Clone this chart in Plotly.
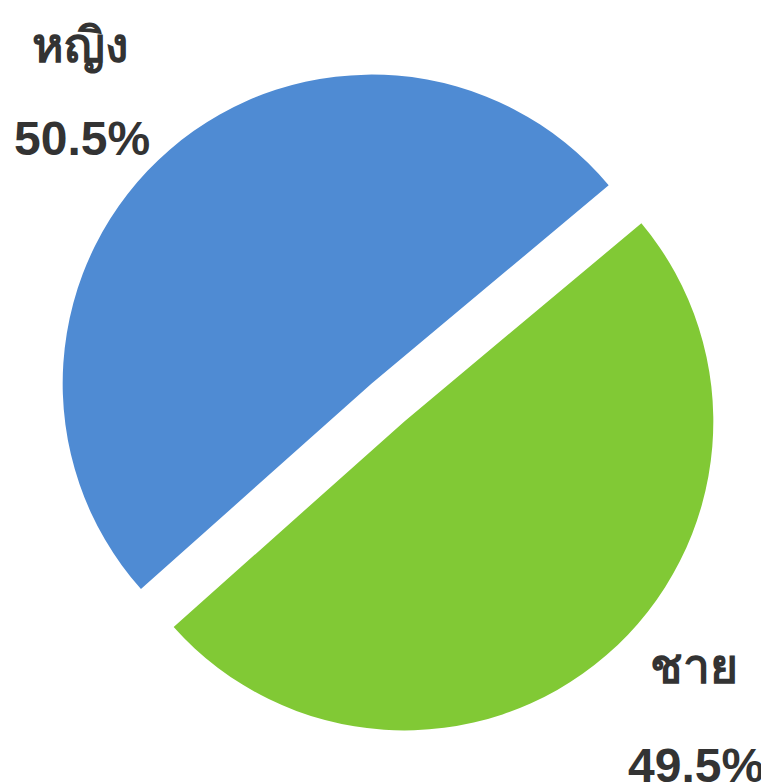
import plotly.graph_objects as go

labels = ["หญิง", "ชาย"]
values = [50.5, 49.5]
colors = ["#4F8BD3", "#81C935"]

W, H = 769, 784
OFF = 8  # page body margin shifts the figure by this many pixels
ML, MR, MT, MB = 54 - OFF, 47 + OFF, 60 - OFF, 39 + OFF
PW, PH = W - ML - MR, H - MT - MB

# label blocks (window pixel positions of text centres) for each slice
label_pos = [(80, 46), (694, 666)]
pct_pos = [(82, 138), (696, 765)]


def to_paper(px, py):
    return (px - OFF - ML) / PW, 1 - (py - OFF - MT) / PH


fig = go.Figure()

fig.add_trace(go.Pie(
    labels=labels, values=values,
    sort=False, direction="counterclockwise", rotation=228.3,
    pull=0.081,
    marker=dict(colors=colors, line=dict(width=0)),
    textinfo="none",
    hoverinfo="label+percent",
    showlegend=False,
))

total = sum(values)
font = dict(family="Arial, Liberation Sans, sans-serif", size=48, color="#333333")
for i, (lab, val) in enumerate(zip(labels, values)):
    for (px, py), txt in ((label_pos[i], lab), (pct_pos[i], f"{val / total * 100:.1f}%")):
        x, y = to_paper(px, py)
        fig.add_annotation(
            x=x, y=y, xref="paper", yref="paper",
            xanchor="center", yanchor="middle",
            text=f"<b>{txt}</b>", showarrow=False, font=font,
        )

fig.update_layout(
    width=W, height=H,
    margin=dict(l=ML, r=MR, t=MT, b=MB),
    paper_bgcolor="white",
    plot_bgcolor="white",
)

fig.write_html("out.html")
